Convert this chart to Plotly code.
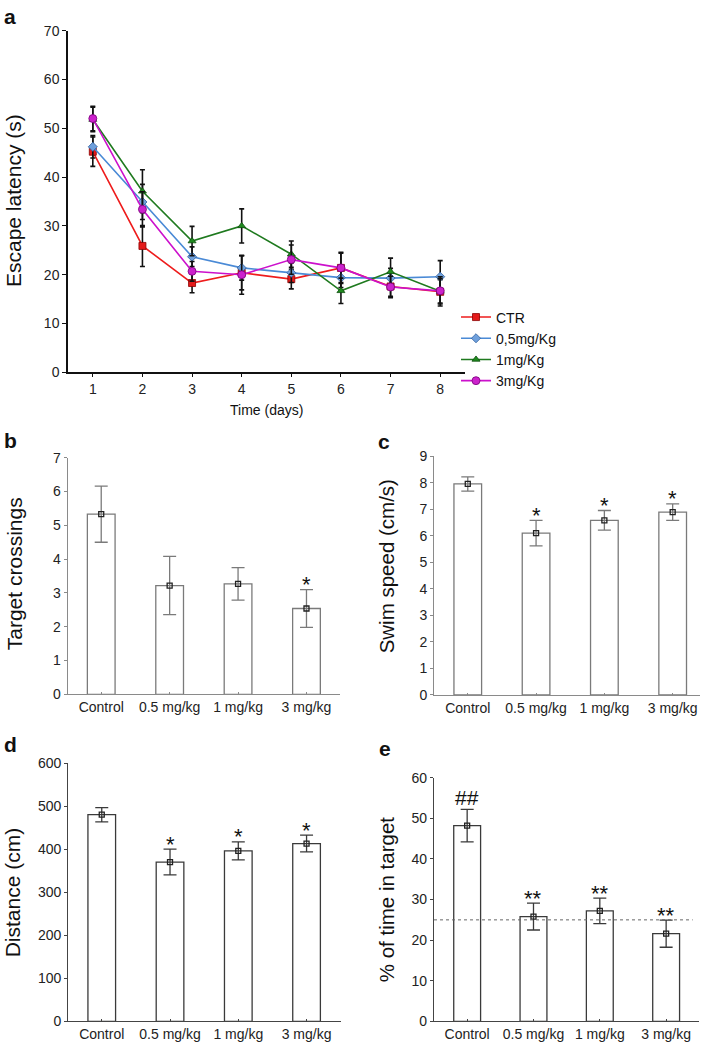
import plotly.graph_objects as go

W, H = 709, 1051
FONT = "Arial, Liberation Sans, sans-serif"

# ---------------- Data ----------------
days = [1, 2, 3, 4, 5, 6, 7, 8]
series_names = ["CTR", "0,5mg/Kg", "1mg/Kg", "3mg/Kg"]
ctr_mean = [45.2, 25.9, 18.3, 20.4, 19.1, 21.4, 17.6, 16.5]
ctr_err = [3.0, 4.2, 2.0, 3.5, 2.0, 3.2, 2.0, 2.5]
low_mean = [46.2, 34.9, 23.7, 21.4, 20.4, 19.4, 19.3, 19.6]
low_err = [2.3, 3.6, 2.0, 2.5, 2.0, 2.0, 2.0, 3.3]
mid_mean = [51.8, 37.1, 26.9, 30.0, 24.2, 16.7, 20.6, 16.6]
mid_err = [2.5, 4.4, 3.0, 3.5, 2.7, 2.6, 2.8, 3.0]
high_mean = [52.0, 33.4, 20.7, 20.0, 23.1, 21.4, 17.5, 16.7]
high_err = [2.5, 3.6, 2.0, 4.0, 3.0, 3.0, 2.2, 2.5]

groups = ["Control", "0.5 mg/kg", "1 mg/kg", "3 mg/kg"]
crossings_mean = [5.33, 3.22, 3.27, 2.54]
crossings_err = [0.83, 0.86, 0.48, 0.56]
crossings_sig = ["", "", "", "*"]
speed_mean = [7.95, 6.10, 6.58, 6.89]
speed_err = [0.27, 0.48, 0.37, 0.31]
speed_sig = ["", "*", "*", "*"]
distance_mean = [480, 370, 396, 413]
distance_err = [16.5, 30, 21, 19.5]
distance_sig = ["", "*", "*", "*"]
target_mean = [48.2, 25.8, 27.2, 21.6]
target_err = [4.0, 3.3, 3.15, 3.35]
target_sig = ["##", "**", "**", "**"]
chance_level = 25

# ---------------- Helpers ----------------
def px_x(p):
    return p / W

def px_y(p):
    return 1 - p / H

fig = go.Figure()

# Panel a: line chart
line_styles = [
    dict(color="#ee1c1c", symbol="square", size=7, mcolor="#e41a1a", mline="#8b0000"),
    dict(color="#4a8ad6", symbol="diamond", size=7, mcolor="#6fa0dc", mline="#2f5f9f"),
    dict(color="#1f7a1f", symbol="triangle-up", size=7, mcolor="#1f8a1f", mline="#0f4f0f"),
    dict(color="#cc11cc", symbol="circle", size=8, mcolor="#cc22cc", mline="#7a007a"),
]
all_means = [ctr_mean, low_mean, mid_mean, high_mean]
all_errs = [ctr_err, low_err, mid_err, high_err]
for name, m, e, st in zip(series_names, all_means, all_errs, line_styles):
    fig.add_trace(go.Scatter(
        x=days, y=m, name=name, mode="lines+markers",
        line=dict(color=st["color"], width=1.6),
        marker=dict(symbol=st["symbol"], size=st["size"], color=st["mcolor"],
                    line=dict(color=st["mline"], width=0.8)),
        error_y=dict(type="data", array=e, color="#111111", thickness=1.6, width=2.5),
        xaxis="x", yaxis="y", showlegend=True,
    ))

# Bar panels
bar_panels = [
    ("2", groups, crossings_mean, crossings_err, crossings_sig, "#7a7a7a"),
    ("3", groups, speed_mean, speed_err, speed_sig, "#7a7a7a"),
    ("4", groups, distance_mean, distance_err, distance_sig, "#3a3a3a"),
    ("5", groups, target_mean, target_err, target_sig, "#3a3a3a"),
]
for ax, cats, m, e, sig, col in bar_panels:
    fig.add_trace(go.Bar(
        x=cats, y=m, width=0.405,
        marker=dict(color="white", line=dict(color=col, width=1.3)),
        error_y=dict(type="data", array=e, color=col, thickness=1.3, width=6.5),
        xaxis="x" + ax, yaxis="y" + ax, showlegend=False,
    ))
    fig.add_trace(go.Scatter(
        x=cats, y=m, mode="markers",
        marker=dict(symbol="square-open", size=5, color="#222222", line=dict(width=1.3)),
        xaxis="x" + ax, yaxis="y" + ax, showlegend=False,
    ))
    for c, mv, ev, s in zip(cats, m, e, sig):
        if s:
            fig.add_annotation(
                x=c, y=mv + ev, xref="x" + ax, yref="y" + ax, text=s,
                showarrow=False, yanchor="middle",
                yshift=(12 if "#" in s else 5),
                font=dict(family=FONT, size=(21 if "#" in s else 22), color="#111111"),
            )

# Chance level line in panel e
fig.add_shape(type="line", xref="x5 domain", yref="y5", x0=0.0, x1=0.975,
              y0=chance_level, y1=chance_level,
              line=dict(color="#666666", width=1, dash="dot"))

# ---------------- Axes ----------------
tickfont = dict(family=FONT, size=14, color="#222222")
catfont = dict(family=FONT, size=14, color="#222222")

def yax(domain_px, rng, dtick, color):
    return dict(domain=[px_y(domain_px[0]), px_y(domain_px[1])], range=rng, dtick=dtick,
                showline=True, linecolor=color, linewidth=1.2, ticks="outside",
                ticklen=3, tickcolor=color, showgrid=False, zeroline=False,
                tickfont=tickfont, fixedrange=True)

def xcat(domain_px, rng, anchor, color):
    return dict(domain=[px_x(domain_px[0]), px_x(domain_px[1])], range=rng, type="category",
                showline=True, linecolor=color, linewidth=1.2, ticks="inside",
                ticklen=2, tickcolor=color, showgrid=False, zeroline=False,
                tickfont=catfont, anchor=anchor)

fig.update_layout(
    width=W, height=H, margin=dict(l=0, r=0, t=0, b=0),
    paper_bgcolor="white", plot_bgcolor="white",
    font=dict(family=FONT, color="#111111"),
    xaxis=dict(domain=[px_x(68), px_x(465)], range=[0.5, 8.5], dtick=1,
               showline=True, linecolor="#111111", linewidth=1.5, ticks="outside",
               ticklen=3, tickcolor="#111111", showgrid=False, zeroline=False,
               tickfont=tickfont, anchor="y"),
    yaxis=dict(domain=[px_y(370), px_y(23)], range=[0, 70], dtick=10,
               showline=True, linecolor="#111111", linewidth=1.5, ticks="outside",
               ticklen=4, tickcolor="#111111", showgrid=False, zeroline=False,
               tickfont=tickfont, anchor="x"),
    xaxis2=xcat((67.7, 340), [-0.49, 3.49], "y2", "#8a8a8a"),
    yaxis2=dict(yax((697, 456.7), [0, 7], 1, "#8a8a8a"), anchor="x2"),
    xaxis3=xcat((434.3, 700), [-0.49, 3.4], "y3", "#8a8a8a"),
    yaxis3=dict(yax((697.6, 455), [0, 9], 1, "#8a8a8a"), anchor="x3"),
    xaxis4=xcat((68.3, 340.7), [-0.49, 3.5], "y4", "#444444"),
    yaxis4=dict(yax((1029, 766.7), [0, 600], 100, "#444444"), anchor="x4"),
    xaxis5=xcat((434, 699.3), [-0.5, 3.5], "y5", "#444444"),
    yaxis5=dict(yax((1029, 781.7), [0, 60], 10, "#444444"), anchor="x5"),
    legend=dict(x=px_x(456), y=px_y(298), xanchor="left", yanchor="top",
                font=dict(family=FONT, size=14, color="#111111"),
                bgcolor="rgba(0,0,0,0)", tracegroupgap=0, itemwidth=30),
    bargap=0.5,
)

# ---------------- Text annotations ----------------
def label(text, x, y, size=20, bold=True, angle=0):
    fig.add_annotation(
        x=px_x(x), y=px_y(y), xref="paper", yref="paper", showarrow=False,
        text=("<b>%s</b>" % text) if bold else text, textangle=angle,
        xanchor="center", yanchor="middle",
        font=dict(family=FONT, size=size, color="#111111"),
    )

label("a", 10, 9, 21)
label("b", 10, 439, 21)
label("c", 384, 440, 21)
label("d", 10, 748, 21)
label("e", 385, 752, 21)

label("Escape latency (s)", 13, 196, 21, bold=False, angle=-90)
label("Time (days)", 266, 408, 14, bold=False)
label("Target crossings", 14, 575, 21, bold=False, angle=-90)
label("Swim speed (cm/s)", 386, 567, 20.5, bold=False, angle=-90)
label("Distance (cm)", 12, 898, 21, bold=False, angle=-90)
label("% of time in target", 386, 905, 20.5, bold=False, angle=-90)

fig.write_html("out.html", config={"displayModeBar": False},
               post_script="document.body.style.margin='0px';")
